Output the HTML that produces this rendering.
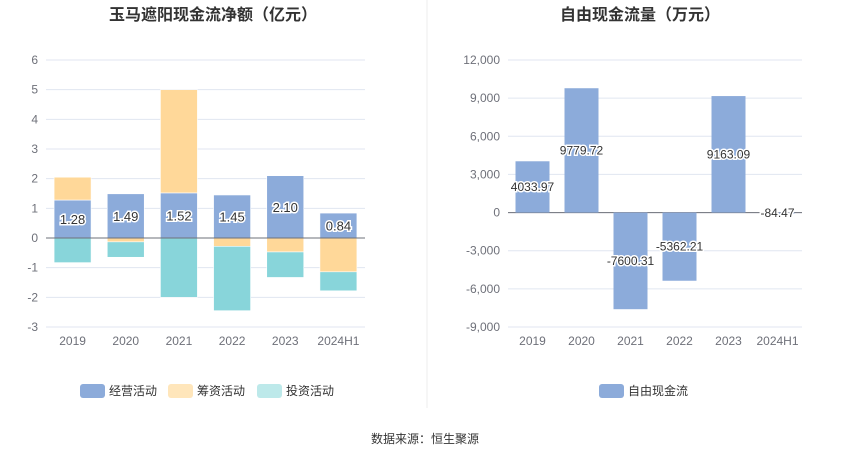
<!DOCTYPE html>
<html><head><meta charset="utf-8">
<style>
body{margin:0;width:850px;height:459px;background:#fff;overflow:hidden;font-family:"Liberation Sans","Noto Sans CJK SC",sans-serif;}
svg text{font-family:"Liberation Sans","Noto Sans CJK SC",sans-serif;}
</style></head>
<body>
<svg id="c" width="850" height="459"></svg>
<script>
const cats=['2019','2020','2021','2022','2023','2024H1'];
const opVals=[1.28,1.49,1.52,1.45,2.10,0.84];
const finVals=[0.77,-0.13,3.48,-0.28,-0.47,-1.14];
const invVals=[-0.83,-0.52,-2.0,-2.17,-0.86,-0.64];
const leftTicks=[6,5,4,3,2,1,0,-1,-2,-3];
const fcfVals=[4033.97,9779.72,-7600.31,-5362.21,9163.09,-84.47];
const rightTicks=[12000,9000,6000,3000,0,-3000,-6000,-9000];
const rightTickLabels=['12,000','9,000','6,000','3,000','0','-3,000','-6,000','-9,000'];

const NS='http://www.w3.org/2000/svg';
const svg=document.getElementById('c');
function el(tag,attrs,parent){const e=document.createElementNS(NS,tag);for(const k in attrs)e.setAttribute(k,attrs[k]);(parent||svg).appendChild(e);return e;}
function txt(s,attrs,parent){const e=el('text',attrs,parent);e.textContent=s;return e;}

// left chart
const L={x0:46,x1:365,yTop:60,yBot:327,max:6,min:-3};
const ly=v=>L.yTop+(L.max-v)*(L.yBot-L.yTop)/(L.max-L.min);
const lBand=(L.x1-L.x0)/cats.length;
const lx=i=>L.x0+lBand*(i+0.5);
const lg=el('g',{});


leftTicks.forEach(t=>{
  const g=el('line',{x1:L.x0,x2:L.x1,y1:ly(t),y2:ly(t),stroke:'#e0e6f1','stroke-width':1},lg);
  
  
  const tl=txt(String(t),{x:38,y:ly(t)+4,'text-anchor':'end','font-size':12,fill:'#6e7079'},lg);
  
  
});
const bw=37;
cats.forEach((c,i)=>{
  const cx=lx(i);
  let pos=0,neg=0;
  const series=[[opVals[i],'#8cabda','operating'],[finVals[i],'#ffd899','financing'],[invVals[i],'#88d5da','investing']];
  series.forEach(([v,col,nm])=>{
    let y0,y1;
    if(v>=0){y0=pos;y1=pos+v;pos=y1;}else{y0=neg;y1=neg+v;neg=y1;}
    const r=el('rect',{x:cx-bw/2,y:Math.min(ly(y0),ly(y1)),width:bw,height:Math.abs(ly(y1)-ly(y0)),fill:col,stroke:'#fff','stroke-width':0.6},lg);
    
    
  });
  const lb=txt(opVals[i].toFixed(2),{x:cx,y:(ly(0)+ly(opVals[i]))/2+5,'text-anchor':'middle','font-size':13,fill:'#333',stroke:'#fff','stroke-width':3,'paint-order':'stroke'},lg);
  
  
  const xl=txt(c,{x:cx,y:345,'text-anchor':'middle','font-size':12,fill:'#6e7079'},lg);
  
  
});
const lz=el('line',{x1:L.x0,x2:L.x1,y1:ly(0),y2:ly(0),stroke:'#6e7079','stroke-width':1},lg);



// right chart
const R={x0:508,x1:802,yTop:60,yBot:327,max:12000,min:-9000};
const ry=v=>R.yTop+(R.max-v)*(R.yBot-R.yTop)/(R.max-R.min);
const rBand=(R.x1-R.x0)/cats.length;
const rx=i=>R.x0+rBand*(i+0.5);
const rg=el('g',{});


rightTicks.forEach((t,k)=>{
  const g=el('line',{x1:R.x0,x2:R.x1,y1:ry(t),y2:ry(t),stroke:'#e0e6f1','stroke-width':1},rg);
  
  
  const tl=txt(rightTickLabels[k],{x:500,y:ry(t)+4,'text-anchor':'end','font-size':12,fill:'#6e7079'},rg);
  
  
});
const rz=el('line',{x1:R.x0,x2:R.x1,y1:ry(0),y2:ry(0),stroke:'#6e7079','stroke-width':1},rg);


cats.forEach((c,i)=>{
  const cx=rx(i),v=fcfVals[i];
  const r=el('rect',{x:cx-17,y:Math.min(ry(0),ry(v)),width:34,height:Math.abs(ry(v)-ry(0)),fill:'#8cabda'},rg);
  
  
  const lb=txt(v.toFixed(2),{x:cx,y:(ry(0)+ry(v))/2+4,'text-anchor':'middle','font-size':12,fill:'#333',stroke:'#fff','stroke-width':3,'paint-order':'stroke'},rg);
  
  
  const xl=txt(c,{x:cx,y:345,'text-anchor':'middle','font-size':12,fill:'#6e7079'},rg);
  
  
});
</script>
<svg width="850" height="459" style="position:absolute;left:0;top:0">
<text x="213" y="20" text-anchor="middle" font-size="16" font-weight="bold" fill="#333">玉马遮阳现金流净额（亿元）</text>
<text x="640" y="20" text-anchor="middle" font-size="16" font-weight="bold" fill="#333">自由现金流量（万元）</text>
<line x1="427" y1="0" x2="427" y2="408" stroke="#eeeeee"/>
<g><rect x="80" y="384" width="25" height="14" rx="3" fill="#8cabda"/><text x="109" y="395" font-size="12" fill="#333">经营活动</text></g>
<g><rect x="168" y="384" width="25" height="14" rx="3" fill="#ffe6bb"/><text x="197" y="395" font-size="12" fill="#333">筹资活动</text></g>
<g><rect x="257" y="384" width="25" height="14" rx="3" fill="#bde9ea"/><text x="286" y="395" font-size="12" fill="#333">投资活动</text></g>
<g><rect x="599" y="384" width="25" height="14" rx="3" fill="#8cabda"/><text x="628" y="395" font-size="12" fill="#333">自由现金流</text></g>
<text x="425" y="443" text-anchor="middle" font-size="12" fill="#333">数据来源：恒生聚源</text>
</svg>
</body></html>
